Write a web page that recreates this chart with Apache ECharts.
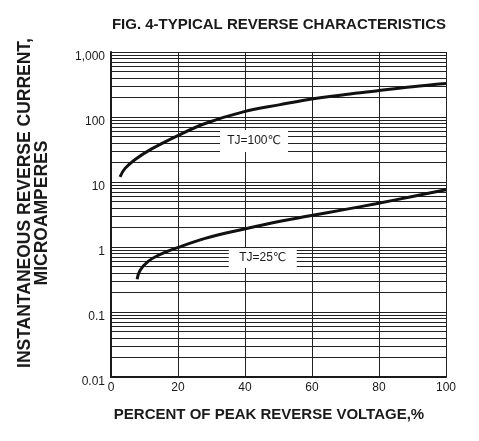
<!DOCTYPE html>
<html>
<head>
<meta charset="utf-8">
<script src="https://cdn.jsdelivr.net/npm/echarts@6/dist/echarts.min.js"></script>
<style>
  html, body { margin: 0; padding: 0; background: #fff; }
  #chart { width: 479px; height: 441px; }
</style>
</head>
<body>
<div id="chart"></div>
<script>
// 数据
const yTickLabels = ['0.01', '0.1', '1', '10', '100', '1,000'];
const decades = [0.01, 0.1, 1, 10, 100];
const minorSteps = [2, 3, 4, 5, 6, 7, 8, 9];

// TJ=100℃
const pct100 = [2.7, 4.2, 7.2, 12, 19.8, 28.1, 39.5, 50.5, 59, 70, 79.1, 90, 100];
const cur100 = [12, 16.2, 22.2, 32, 51.3, 79.5, 120, 155, 186, 222, 252, 292, 327];

// TJ=25℃
const pct25 = [7.8, 8.7, 11.1, 14, 19.7, 28.1, 39.5, 50.5, 59, 70, 79.1, 90, 100];
const cur25 = [0.32, 0.44, 0.6, 0.74, 0.97, 1.36, 1.88, 2.49, 2.99, 3.79, 4.63, 5.99, 7.6];

const FONT = '"Liberation Sans", Arial, "DejaVu Sans", sans-serif';
const INK = '#1a1a1a';

// 对数坐标纸的细分线
let minorLines = [];
decades.forEach(function (d) {
  minorSteps.forEach(function (m) {
    minorLines.push({ yAxis: d * m });
  });
});

function toPairs(xs, ys) {
  return xs.map(function (x, i) { return [x, ys[i]]; });
}

const chart = echarts.init(document.getElementById('chart'), null, { renderer: 'canvas' });

chart.setOption({
  animation: false,
  backgroundColor: '#fff',
  grid: {
    left: 111,
    right: 33,
    top: 52,
    bottom: 64,
    containLabel: false,
    outerBoundsMode: 'none'
  },
  graphic: [
    {
      type: 'text', x: 279, y: 25,
      style: { text: 'FIG. 4-TYPICAL REVERSE CHARACTERISTICS', font: 'bold 15px ' + FONT, fill: INK, align: 'center', verticalAlign: 'middle' }
    },
    {
      type: 'text', x: 269, y: 415,
      style: { text: 'PERCENT OF PEAK REVERSE VOLTAGE,%', font: 'bold 15px ' + FONT, fill: INK, align: 'center', verticalAlign: 'middle' }
    },
    {
      type: 'text', x: 25.5, y: 203, rotation: Math.PI / 2,
      style: { text: 'INSTANTANEOUS REVERSE CURRENT,', font: 'bold 17.5px ' + FONT, fill: INK, align: 'center', verticalAlign: 'middle' }
    },
    {
      type: 'text', x: 42, y: 213, rotation: Math.PI / 2,
      style: { text: 'MICROAMPERES', font: 'bold 17.5px ' + FONT, fill: INK, align: 'center', verticalAlign: 'middle' }
    }
  ],
  xAxis: {
    type: 'value',
    min: 0,
    max: 100,
    interval: 20,
    axisLine: { show: true, lineStyle: { color: INK, width: 2 } },
    axisTick: { show: false },
    axisLabel: { color: INK, fontSize: 12, fontFamily: FONT, margin: 5 },
    splitLine: { show: true, lineStyle: { color: '#222', width: 1 } }
  },
  yAxis: {
    type: 'log',
    logBase: 10,
    min: 0.01,
    max: 1000,
    splitNumber: 5,
    axisLine: { show: true, lineStyle: { color: INK, width: 2 } },
    axisTick: { show: false },
    axisLabel: {
      color: INK, fontSize: 12, fontFamily: FONT, margin: 6,
      verticalAlign: 'top',
      lineHeight: 10,
      formatter: function (v) {
        return yTickLabels[Math.round(Math.log10(v)) + 2];
      }
    },
    splitLine: { show: true, lineStyle: { color: '#222', width: 1 } }
  },
  series: [
    {
      name: 'TJ=100℃',
      type: 'line',
      z: 3,
      smooth: 0.4,
      symbol: 'none',
      lineStyle: { color: '#111', width: 3 },
      data: toPairs(pct100, cur100),
      markLine: {
        silent: true,
        z: 1,
        symbol: 'none',
        label: { show: false },
        lineStyle: { color: '#222', width: 1, type: 'solid' },
        data: minorLines
      },
      markPoint: {
        silent: true,
        symbol: 'rect',
        symbolSize: [68, 22],
        itemStyle: { color: '#fff' },
        label: { show: true, position: 'inside', formatter: '{b}', color: INK, fontSize: 12, fontFamily: FONT },
        data: [{ name: 'TJ=100℃', coord: [42.7, 42.9] }]
      }
    },
    {
      name: 'TJ=25℃',
      type: 'line',
      z: 3,
      smooth: 0.4,
      symbol: 'none',
      lineStyle: { color: '#111', width: 3 },
      data: toPairs(pct25, cur25),
      markPoint: {
        silent: true,
        symbol: 'rect',
        symbolSize: [68, 20],
        itemStyle: { color: '#fff' },
        label: { show: true, position: 'inside', formatter: '{b}', color: INK, fontSize: 12, fontFamily: FONT },
        data: [{ name: 'TJ=25℃', coord: [45.3, 0.678] }]
      }
    }
  ]
});
</script>
</body>
</html>
